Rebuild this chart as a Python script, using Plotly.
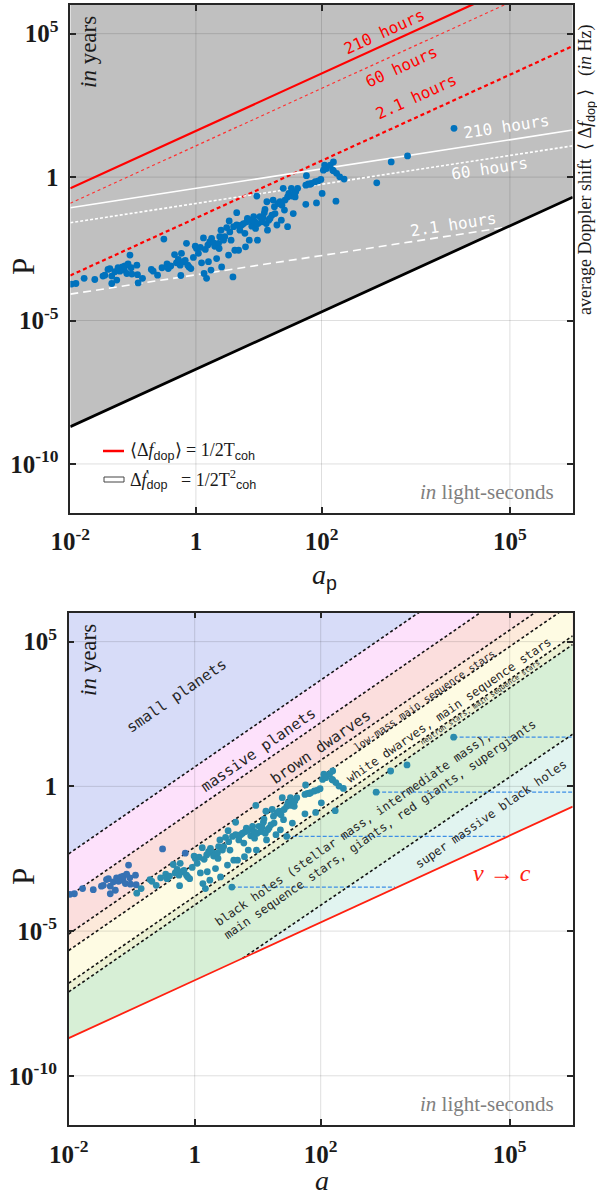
import plotly.graph_objects as go

W, H = 597, 1195

# ---------------- data (log10 of projected semi-major axis [light-s], log10 of period [yr]) ----
log_a = [-1.98, -1.91, -1.78, -1.61, -1.48, -1.45, -1.40, -1.37, -1.34, -1.34, -1.29, -1.26, -1.24,
         -1.21, -1.17, -1.14, -1.13, -1.10, -1.08, -1.05, -1.03, -1.02, -0.94, -0.93, -0.92, -0.85,
         -0.71, -0.68, -0.61, -0.54, -0.51, -0.46, -0.44, -0.40, -0.34, -0.31, -0.28, -0.25, -0.24,
         -0.23, -0.20, -0.17, -0.15, -0.13, -0.11, -0.08, -0.04, -0.01, 0.01, 0.04, 0.07, 0.09, 0.12,
         0.13, 0.15, 0.17, 0.19, 0.20, 0.22, 0.24, 0.25, 0.28, 0.30, 0.33, 0.36, 0.37, 0.38, 0.40,
         0.41, 0.44, 0.46, 0.49, 0.52, 0.53, 0.54, 0.56, 0.59, 0.60, 0.62, 0.65, 0.65, 0.68, 0.70,
         0.73, 0.76, 0.78, 0.79, 0.81, 0.82, 0.85, 0.86, 0.89, 0.92, 0.94, 0.95, 0.97, 0.98, 0.99,
         1.02, 1.05, 1.07, 1.09, 1.10, 1.12, 1.13, 1.14, 1.16, 1.18, 1.21, 1.23, 1.25, 1.26, 1.29,
         1.31, 1.34, 1.36, 1.37, 1.39, 1.41, 1.42, 1.46, 1.46, 1.48, 1.52, 1.53, 1.55, 1.57, 1.58,
         1.59, 1.62, 1.75, 1.76, 1.75, 1.79, 1.82, 1.84, 1.90, 1.92, 1.95, 1.99, 2.01, 2.03, 2.05,
         2.08, 2.14, 2.18, 2.19, 2.19, 2.23, 2.24, 2.29, 2.36, 2.88, 3.11, 3.37, 4.11]
log_P = [-3.73, -3.71, -3.53, -3.57, -3.45, -3.42, -3.22, -3.19, -3.45, -3.71, -3.30, -3.59, -3.16,
         -3.28, -3.13, -3.24, -3.10, -3.36, -3.03, -2.72, -3.16, -3.38, -3.07, -3.40, -3.69, -3.53,
         -3.22, -3.28, -3.42, -3.16, -2.16, -3.03, -3.19, -3.10, -2.70, -2.99, -2.87, -3.07, -3.43,
         -2.66, -2.95, -2.90, -2.31, -3.07, -3.13, -3.19, -2.80, -2.41, -2.49, -2.66, -2.45, -2.99, -2.12,
         -3.36, -2.52, -3.53, -2.37, -2.95, -2.26, -3.24, -2.14, -2.29, -2.41, -2.84, -2.31, -2.49, -2.08,
         -1.85, -3.13, -2.20, -2.08, -1.76, -2.72, -1.53, -1.91, -2.20, -3.48, -1.73, -2.55, -1.24, -1.67,
         -2.55, -1.85, -1.67, -1.62, -1.96, -2.43, -1.56, -1.44, -2.20, -1.50, -1.71, -1.38, -1.56, -1.79,
         -0.66, -2.20, -1.62, -1.38, -1.56, -1.41, -1.24, -1.13, -1.62, -0.86, -1.85, -1.50, -1.44, -1.33,
         -0.80, -1.03, -1.27, -1.67, -0.92, -0.86, -1.50, -0.98, -0.39, -1.15, -0.80, -1.73, -0.69, -0.57,
         -0.39, -0.66, -1.27, -0.55, -0.69, -0.51, -0.39, -0.28, 0.05, -0.95, -0.24, -0.25, -0.22, -0.16,
         -0.90, -0.13, -0.08, -0.57, 0.24, 0.42, 0.30, 0.42, 0.24, 0.53, 0.22, -0.84, 0.13, 0.01, -0.07,
         -0.20, 0.53, 0.74, 1.70]

# dashed extensions (bottom panel)
ext_logP = [1.70, -0.20, -1.73, -3.48]
ext_loga_start = [4.11, 2.88, 1.46, 0.59]
ext_loga_end = [6.0, 6.0, 4.93, 3.18]

# top panel limit lines (log10 a endpoints, log10 P endpoints)
line_loga = [-2.0, 6.0]
red_labels = ["210 hours", "60 hours", "2.1 hours"]
red_logP = [[-0.39, 7.61], [-0.91, 7.09], [-3.43, 4.57]]
white_labels = ["210 hours", "60 hours", "2.1 hours"]
white_loga = [[-2.0, 6.0], [-2.0, 6.0], [-2.0, 4.9]]
white_logP = [[-1.07, 1.64], [-1.59, 1.09], [-4.08, -1.76]]
light_logP = [-8.70, -0.70]   # v -> c

# bottom panel band boundaries
band_bound_logP = [[-2.33, 9.67], [-3.80, 8.20], [-5.10, 6.90], [-5.67, 6.33],
                   [-6.80, 5.20], [-7.10, 4.90]]
smbh_loga = [0.76, 6.0]
smbh_logP = [-5.94, 1.80]
band_colors = ["#d7dcf8", "#fde1fb", "#fbdedd", "#fde9da", "#fefbe3", "#ecf1d3", "#d7efd6", "#e1f4f0"]

# axis ticks
xtick_vals = [1e-2, 1, 1e2, 1e5]
xtick_text = ["10<sup>-2</sup>", "1", "10<sup>2</sup>", "10<sup>5</sup>"]
ytick_vals = [1e5, 1, 1e-5, 1e-10]
ytick_text = ["10<sup>5</sup>", "1", "10<sup>-5</sup>", "10<sup>-10</sup>"]

# ---------------------------------------------------------------------------------------------
def P(v):
    return [10 ** t for t in v]

SERIF = "Liberation Serif"
MONO = "DejaVu Sans Mono"
AXC = "#262626"

fig = go.Figure()

def add(tr, row):
    tr.update(xaxis="x" if row == 1 else "x2", yaxis="y" if row == 1 else "y2",
              showlegend=False, hoverinfo="skip")
    fig.add_trace(tr)

def grid(row):
    xs, ys = [], []
    for v in xtick_vals[1:]:
        xs += [v, v, None]; ys += [1e-12, 1e7, None]
    for v in ytick_vals:
        xs += [1e-2, 1e6, None]; ys += [v, v, None]
    add(go.Scatter(x=xs, y=ys, mode="lines", line=dict(color="rgba(0,0,0,0.13)", width=1)), row)

# ---- top panel
lo = [line_loga[0], line_loga[1], line_loga[1], line_loga[0]]
add(go.Scatter(x=P(lo), y=P([light_logP[0], light_logP[1], 7, 7]), fill="toself",
               fillcolor="#c0c0c0", mode="lines", line=dict(width=0)), 1)
grid(1)
red_styles = [dict(color="#ff0000", width=2.2), dict(color="#ff3030", width=1.2, dash="dot"),
              dict(color="#ff0000", width=2.2, dash="4px,3px")]
for lp, st in zip(red_logP, red_styles):
    add(go.Scatter(x=P(line_loga), y=P(lp), mode="lines", line=st), 1)
white_styles = [dict(color="white", width=1.6), dict(color="white", width=1.6, dash="3px,2px"),
                dict(color="white", width=1.6, dash="8px,5px")]
for la, lp, st in zip(white_loga, white_logP, white_styles):
    add(go.Scatter(x=P(la), y=P(lp), mode="lines", line=st), 1)
add(go.Scatter(x=P(line_loga), y=P(light_logP), mode="lines", line=dict(color="black", width=2.8)), 1)
add(go.Scatter(x=P(log_a), y=P(log_P), mode="markers",
               marker=dict(color="#0072bd", size=6.8, line=dict(width=0))), 1)

# ---- bottom panel
base = [light_logP[1], light_logP[0]]
add(go.Scatter(x=P(lo), y=P([light_logP[0], light_logP[1], 7, 7]), fill="toself",
               fillcolor=band_colors[0], mode="lines", line=dict(width=0)), 2)
for bl, col in zip(band_bound_logP, band_colors[1:7]):
    add(go.Scatter(x=P(lo), y=P([bl[0], bl[1], base[0], base[1]]), fill="toself",
                   fillcolor=col, mode="lines", line=dict(width=0)), 2)
add(go.Scatter(x=P([smbh_loga[0], smbh_loga[1], smbh_loga[1]]),
               y=P([smbh_logP[0], smbh_logP[1], light_logP[1]]), fill="toself",
               fillcolor=band_colors[7], mode="lines", line=dict(width=0)), 2)
grid(2)
for s, e, lp in zip(ext_loga_start, ext_loga_end, ext_logP):
    add(go.Scatter(x=P([s, e]), y=P([lp, lp]), mode="lines",
                   line=dict(color="#3d8ee6", width=1.2, dash="4px,2px")), 2)
for bl in band_bound_logP:
    add(go.Scatter(x=P(line_loga), y=P(bl), mode="lines",
                   line=dict(color="#111111", width=1.6, dash="3px,2.5px")), 2)
add(go.Scatter(x=P(smbh_loga), y=P(smbh_logP), mode="lines",
               line=dict(color="#111111", width=1.6, dash="3px,2.5px")), 2)
add(go.Scatter(x=P(line_loga), y=P(light_logP), mode="lines", line=dict(color="#ff2010", width=1.8)), 2)

# marker tint follows the band (bluer over the planet / brown-dwarf bands)
bd = band_bound_logP[2]
bd_slope = (bd[1] - bd[0]) / (line_loga[1] - line_loga[0])
pt_cols = ["#3671b3" if p > bd[0] + (a - line_loga[0]) * bd_slope else "#2a8cae"
           for a, p in zip(log_a, log_P)]
add(go.Scatter(x=P(log_a), y=P(log_P), mode="markers",
               marker=dict(color=pt_cols, size=6.8, line=dict(width=0))), 2)

# ---- axes
def xax(dom):
    return dict(type="log", range=[-2, 6], domain=dom, showgrid=False, zeroline=False,
                automargin=False,
                showline=True, linecolor=AXC, linewidth=1.5, mirror="allticks", ticks="inside",
                ticklen=6, tickwidth=1.5, tickcolor=AXC, tickvals=xtick_vals,
                ticktext=["<b>%s</b>" % t for t in xtick_text],
                tickfont=dict(family=SERIF, size=25, color="#1a1a1a"), ticklabelstandoff=6)

def yax(dom, anchor):
    return dict(type="log", range=[-11.7, 6], domain=dom, showgrid=False, zeroline=False,
                automargin=False,
                showline=True, linecolor=AXC, linewidth=1.5, mirror="allticks", ticks="inside",
                ticklen=6, tickwidth=1.5, tickcolor=AXC, tickvals=ytick_vals, anchor=anchor,
                ticktext=["<b>%s</b>" % t for t in ytick_text],
                tickfont=dict(family=SERIF, size=25, color="#1a1a1a"), ticklabelstandoff=5)

fig.update_layout(
    width=W, height=H, margin=dict(l=0, r=0, t=0, b=0, autoexpand=False),
    paper_bgcolor="white", plot_bgcolor="white",
    xaxis=dict(xax([70.3 / W, 572.7 / W]), anchor="y"),
    yaxis=yax([1 - 512.7 / H, 1 - 5 / H], "x"),
    xaxis2=dict(xax([68.7 / W, 572.7 / W]), anchor="y2"),
    yaxis2=yax([1 - 1125 / H, 1 - 612.7 / H], "x2"),
)

ann = []
def pa(text, x, y, size, color="#1a1a1a", family=SERIF, angle=0, xanchor="center", yanchor="middle"):
    ann.append(dict(text=text, x=x / W, y=1 - y / H, xref="paper", yref="paper", showarrow=False,
                    font=dict(family=family, size=size, color=color), textangle=angle,
                    xanchor=xanchor, yanchor=yanchor))

def da(text, la, lp, size, color, angle, row, family=MONO):
    ann.append(dict(text=text, x=la, y=lp, xref="x" if row == 1 else "x2",
                    yref="y" if row == 1 else "y2", showarrow=False,
                    font=dict(family=family, size=size, color=color), textangle=angle,
                    xanchor="center", yanchor="middle"))

SANS = "<span style='font-family:Liberation Sans'>%s</span>"
# axis titles
pa("P", 23, 267, 31, angle=-90)
pa("P", 23, 877, 31, angle=-90)
pa("<i>a</i><sub>" + SANS % "p" + "</sub>", 324, 576, 28)
pa("<i>a</i>", 322, 1180, 28)
pa("average Doppler shift  ⟨ Δ<i>f</i><sub>" + SANS % "dop" + "</sub> ⟩   (<i>in</i> Hz)",
   586, 170, 18, angle=-90)
pa("<i>in</i> years", 88, 52, 23, angle=-90)
pa("<i>in</i> years", 88, 660, 23, angle=-90)
pa("<i>in</i> light-seconds", 556, 492, 21, color="#808080", xanchor="right")
pa("<i>in</i> light-seconds", 556, 1104, 21, color="#808080", xanchor="right")
# legend
pa("⟨Δ<i>f</i><sub>" + SANS % "dop" + "</sub>⟩ = 1/2T<sub>" + SANS % "coh" + "</sub>",
   128, 451, 18, xanchor="left")
pa("Δ<i>f\u0307</i><sub>" + SANS % "dop" + "</sub>   = 1/2T<sup>2</sup><sub>" + SANS % "coh" + "</sub>",
   128, 480, 18, xanchor="left")

# top-panel line labels
for t, (la, lp) in zip(red_labels, [(3.01, 5.07), (3.28, 3.85), (3.52, 2.80)]):
    da(t, la, lp, 16, "#ff0000", -24.5, 1)
for t, (la, lp) in zip(white_labels, [(4.95, 1.78), (4.68, 0.30), (4.10, -1.67)]):
    da(t, la, lp, 16, "white", -8.7, 1)

# bottom-panel band labels
da("small planets", -0.29, 3.11, 15, "#262626", -34.6, 2)
da("massive planets", 1.01, 1.24, 15, "#262626", -34.6, 2)
da("brown dwarves", 2.00, 1.36, 15, "#262626", -34.6, 2)
da("low-mass main sequence stars", 3.64, 2.97, 10, "#262626", -34.6, 2)
da("white dwarves, main sequence stars", 4.04, 2.63, 12, "#262626", -34.6, 2)
da("neutron stars, main sequence stars", 4.53, 2.87, 7, "#262626", -34.6, 2)
ann.append(dict(text="black holes (stellar mass, intermediate mass),<br>main sequence stars, giants, red giants, supergiants",
                x=2.88, y=-1.28, xref="x2", yref="y2", showarrow=False, align="left",
                font=dict(family=MONO, size=12, color="#262626"), textangle=-34.6))
da("super massive black holes", 4.71, -0.97, 12, "#262626", -34.6, 2)
da("<i>v</i> → <i>c</i>", 4.88, -3.0, 24, "#ff2010", 0, 2, family=SERIF)

shapes = [
    dict(type="line", xref="paper", yref="paper", x0=103 / W, x1=124 / W, y0=1 - 451 / H, y1=1 - 451 / H,
         line=dict(color="#ff0000", width=2.5)),
    dict(type="rect", xref="paper", yref="paper", x0=104 / W, x1=124 / W, y0=1 - 482 / H, y1=1 - 477 / H,
         fillcolor="white", line=dict(color="#444444", width=1)),
]
fig.update_layout(annotations=ann, shapes=shapes)
fig.write_html("out.html", config={"displayModeBar": False},
               post_script="document.body.style.margin='0px';document.body.style.overflow='hidden';")
